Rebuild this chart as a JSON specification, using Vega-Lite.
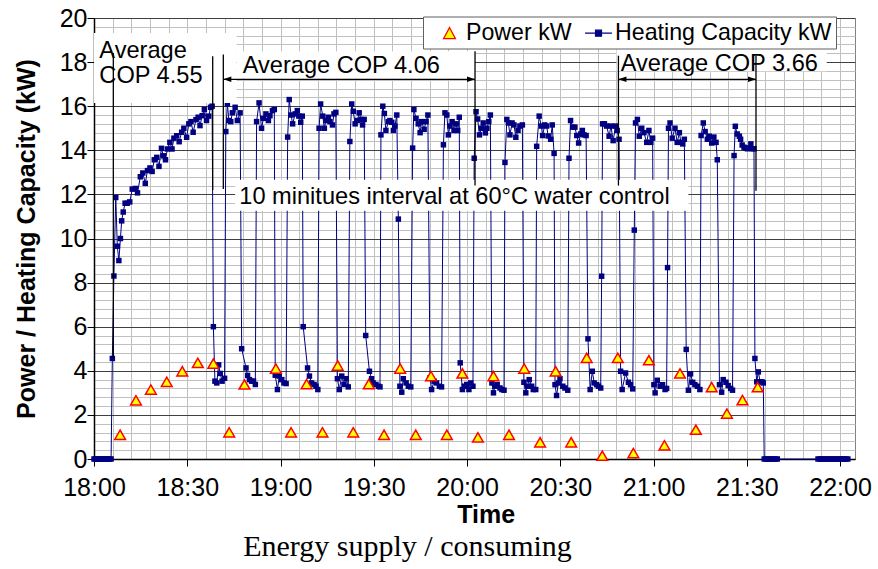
{
  "$schema": "https://vega.github.io/schema/vega-lite/v6.json",
  "width": 761,
  "height": 441,
  "autosize": {"type": "none"},
  "padding": {"left": 94, "top": 18, "right": 23, "bottom": 110},
  "background": "white",
  "config": {"view": {"stroke": "#808080", "strokeWidth": 1}, "font": "Liberation Sans"},
  "title": {"text": "Energy supply / consuming", "orient": "bottom", "anchor": "middle", "font": "Liberation Serif", "fontSize": 30, "fontWeight": "normal", "color": "black", "offset": 5, "dx": -67},
  "layer": [
    {
      "data": {"format": {"parse": {"time": "utc:'%H:%M:%S'"}}, "values": [
        {"time":"18:00:00","kW":0},{"time":"18:00:30","kW":0},{"time":"18:01:00","kW":0},{"time":"18:01:30","kW":0},{"time":"18:02:00","kW":0},{"time":"18:02:30","kW":0},{"time":"18:03:00","kW":0},{"time":"18:03:30","kW":0},{"time":"18:04:00","kW":0},{"time":"18:04:30","kW":0},{"time":"18:05:00","kW":0},{"time":"18:05:30","kW":0},
        {"time":"18:05:54","kW":4.56},{"time":"18:06:24","kW":8.3},{"time":"18:07:00","kW":11.86},{"time":"18:07:30","kW":9.65},{"time":"18:08:00","kW":9.0},{"time":"18:08:30","kW":10.0},{"time":"18:08:54","kW":10.8},{"time":"18:09:24","kW":11.2},{"time":"18:10:00","kW":11.6},{"time":"18:10:42","kW":11.6},{"time":"18:11:30","kW":11.66},{"time":"18:12:18","kW":12.24},{"time":"18:13:18","kW":12.27},{"time":"18:14:00","kW":12.07},{"time":"18:14:54","kW":12.8},{"time":"18:15:42","kW":12.97},{"time":"18:16:30","kW":12.5},{"time":"18:17:12","kW":13.08},{"time":"18:18:00","kW":13.2},{"time":"18:18:42","kW":13.04},{"time":"18:19:24","kW":13.57},{"time":"18:20:12","kW":13.68},{"time":"18:20:54","kW":13.27},{"time":"18:21:42","kW":14.09},{"time":"18:22:18","kW":13.75},{"time":"18:23:00","kW":13.57},{"time":"18:23:36","kW":14.06},{"time":"18:24:24","kW":14.36},{"time":"18:25:06","kW":14.06},{"time":"18:25:42","kW":14.55},{"time":"18:26:36","kW":14.66},{"time":"18:27:24","kW":14.39},{"time":"18:28:12","kW":14.82},{"time":"18:28:54","kW":15.0},{"time":"18:29:48","kW":14.59},{"time":"18:30:30","kW":15.2},{"time":"18:31:12","kW":15.3},{"time":"18:31:54","kW":14.82},{"time":"18:32:48","kW":15.39},{"time":"18:33:30","kW":15.5},{"time":"18:34:06","kW":15.12},{"time":"18:34:48","kW":15.57},{"time":"18:35:30","kW":15.85},{"time":"18:36:12","kW":15.35},{"time":"18:36:54","kW":15.55},{"time":"18:37:30","kW":15.95},{"time":"18:38:00","kW":16.0},
        {"time":"18:38:24","kW":6.0},{"time":"18:38:54","kW":3.53},{"time":"18:39:30","kW":3.45},{"time":"18:40:06","kW":4.27},{"time":"18:40:36","kW":3.88},{"time":"18:41:12","kW":3.53},{"time":"18:42:00","kW":3.66},
        {"time":"18:42:24","kW":14.85},{"time":"18:42:54","kW":16.1},{"time":"18:43:24","kW":15.35},{"time":"18:44:00","kW":15.3},{"time":"18:44:30","kW":15.7},{"time":"18:45:24","kW":15.95},{"time":"18:46:06","kW":15.35},{"time":"18:47:00","kW":15.7},
        {"time":"18:47:30","kW":5.0},{"time":"18:48:54","kW":4.13},{"time":"18:49:24","kW":3.79},{"time":"18:50:00","kW":3.6},{"time":"18:50:42","kW":3.53},{"time":"18:51:18","kW":3.53},{"time":"18:51:54","kW":3.38},
        {"time":"18:52:18","kW":15.3},{"time":"18:53:06","kW":16.15},{"time":"18:53:54","kW":15.0},{"time":"18:54:30","kW":15.45},{"time":"18:55:18","kW":15.65},{"time":"18:56:06","kW":15.35},{"time":"18:56:36","kW":15.57},{"time":"18:57:24","kW":15.8},{"time":"18:58:00","kW":15.85},
        {"time":"18:58:18","kW":3.8},{"time":"18:59:00","kW":3.15},{"time":"18:59:36","kW":3.76},{"time":"19:00:24","kW":3.6},{"time":"19:01:06","kW":3.45},{"time":"19:01:48","kW":3.42},
        {"time":"19:02:18","kW":14.6},{"time":"19:02:48","kW":16.3},{"time":"19:03:24","kW":15.6},{"time":"19:03:54","kW":15.2},{"time":"19:04:42","kW":15.65},{"time":"19:05:24","kW":15.8},{"time":"19:05:54","kW":15.55},{"time":"19:06:30","kW":15.27},{"time":"19:07:00","kW":15.55},
        {"time":"19:07:18","kW":6.0},{"time":"19:08:42","kW":4.13},{"time":"19:09:18","kW":3.76},{"time":"19:10:00","kW":3.45},{"time":"19:10:48","kW":3.38},{"time":"19:11:24","kW":3.3},{"time":"19:12:00","kW":3.15},
        {"time":"19:12:24","kW":15.0},{"time":"19:12:54","kW":16.1},{"time":"19:13:36","kW":15.55},{"time":"19:14:06","kW":15.0},{"time":"19:14:36","kW":15.35},{"time":"19:15:24","kW":15.5},{"time":"19:15:54","kW":15.3},{"time":"19:16:42","kW":15.15},{"time":"19:17:12","kW":15.65},{"time":"19:17:48","kW":15.72},
        {"time":"19:18:18","kW":3.64},{"time":"19:18:54","kW":3.15},{"time":"19:19:42","kW":3.76},{"time":"19:20:24","kW":3.38},{"time":"19:21:06","kW":3.64},{"time":"19:21:48","kW":3.27},
        {"time":"19:22:18","kW":14.4},{"time":"19:22:54","kW":16.1},{"time":"19:23:24","kW":15.77},{"time":"19:24:00","kW":15.2},{"time":"19:24:42","kW":15.35},{"time":"19:25:18","kW":15.7},{"time":"19:25:54","kW":15.4},{"time":"19:26:24","kW":15.15},{"time":"19:26:54","kW":15.4},
        {"time":"19:27:24","kW":5.6},{"time":"19:28:36","kW":3.98},{"time":"19:29:18","kW":3.64},{"time":"19:29:48","kW":3.45},{"time":"19:30:42","kW":3.38},{"time":"19:31:30","kW":3.3},{"time":"19:32:00","kW":3.27},
        {"time":"19:32:18","kW":14.7},{"time":"19:32:54","kW":16.0},{"time":"19:33:24","kW":15.67},{"time":"19:33:54","kW":14.9},{"time":"19:34:42","kW":15.3},{"time":"19:35:12","kW":15.35},{"time":"19:35:48","kW":15.27},{"time":"19:36:18","kW":14.9},{"time":"19:36:48","kW":15.1},{"time":"19:37:24","kW":15.6},
        {"time":"19:37:54","kW":10.88},{"time":"19:38:24","kW":3.3},{"time":"19:39:00","kW":3.03},{"time":"19:39:30","kW":3.64},{"time":"19:40:24","kW":3.45},{"time":"19:41:06","kW":3.3},{"time":"19:41:54","kW":3.27},
        {"time":"19:42:30","kW":14.1},{"time":"19:42:54","kW":15.85},{"time":"19:43:36","kW":15.45},{"time":"19:44:18","kW":15.2},{"time":"19:44:54","kW":14.8},{"time":"19:45:24","kW":15.3},{"time":"19:46:12","kW":14.95},{"time":"19:46:48","kW":15.3},{"time":"19:47:24","kW":15.6},
        {"time":"19:48:06","kW":3.68},{"time":"19:48:36","kW":3.15},{"time":"19:49:24","kW":3.53},{"time":"19:50:12","kW":3.45},{"time":"19:51:06","kW":3.3},{"time":"19:51:48","kW":3.27},
        {"time":"19:52:24","kW":14.25},{"time":"19:52:54","kW":15.7},{"time":"19:53:30","kW":15.6},{"time":"19:54:00","kW":14.7},{"time":"19:54:30","kW":15.1},{"time":"19:55:12","kW":15.3},{"time":"19:55:48","kW":14.9},{"time":"19:56:24","kW":15.2},{"time":"19:57:00","kW":14.9},{"time":"19:57:30","kW":15.5},
        {"time":"19:57:48","kW":4.36},{"time":"19:58:30","kW":3.15},{"time":"19:59:06","kW":3.3},{"time":"19:59:54","kW":3.38},{"time":"20:00:36","kW":3.15},{"time":"20:01:12","kW":3.45},{"time":"20:01:54","kW":3.3},
        {"time":"20:02:18","kW":13.64},{"time":"20:02:54","kW":15.75},{"time":"20:03:24","kW":15.42},{"time":"20:04:00","kW":14.7},{"time":"20:04:36","kW":15.0},{"time":"20:05:12","kW":15.24},{"time":"20:05:54","kW":14.79},{"time":"20:06:24","kW":15.0},{"time":"20:07:00","kW":15.3},{"time":"20:07:30","kW":15.6},
        {"time":"20:08:00","kW":3.45},{"time":"20:08:30","kW":3.0},{"time":"20:09:00","kW":3.3},{"time":"20:09:42","kW":3.37},{"time":"20:10:36","kW":3.22},{"time":"20:11:12","kW":3.15},{"time":"20:11:54","kW":3.12},
        {"time":"20:12:12","kW":13.45},{"time":"20:12:48","kW":15.4},{"time":"20:13:18","kW":15.24},{"time":"20:13:48","kW":14.7},{"time":"20:14:30","kW":15.24},{"time":"20:15:06","kW":15.15},{"time":"20:15:42","kW":14.59},{"time":"20:16:24","kW":14.9},{"time":"20:17:00","kW":15.1},{"time":"20:17:48","kW":15.15},
        {"time":"20:18:18","kW":3.48},{"time":"20:18:54","kW":3.0},{"time":"20:19:24","kW":3.3},{"time":"20:20:00","kW":3.6},{"time":"20:20:48","kW":3.3},{"time":"20:21:18","kW":3.15},{"time":"20:22:06","kW":3.15},
        {"time":"20:22:24","kW":14.18},{"time":"20:23:12","kW":15.55},{"time":"20:23:54","kW":15.1},{"time":"20:24:18","kW":14.67},{"time":"20:25:00","kW":15.15},{"time":"20:25:36","kW":15.1},{"time":"20:26:06","kW":14.65},{"time":"20:26:54","kW":14.5},{"time":"20:27:24","kW":15.15},{"time":"20:28:00","kW":13.86},
        {"time":"20:28:18","kW":3.37},{"time":"20:28:48","kW":2.88},{"time":"20:29:24","kW":3.45},{"time":"20:29:54","kW":3.64},{"time":"20:30:48","kW":3.3},{"time":"20:31:30","kW":3.22},{"time":"20:32:24","kW":3.12},
        {"time":"20:32:48","kW":13.64},{"time":"20:33:18","kW":15.35},{"time":"20:34:00","kW":15.05},{"time":"20:34:42","kW":15.05},{"time":"20:35:18","kW":14.67},{"time":"20:35:54","kW":14.33},{"time":"20:36:36","kW":14.74},{"time":"20:37:06","kW":14.9},{"time":"20:37:36","kW":14.7},{"time":"20:38:18","kW":14.67},
        {"time":"20:38:54","kW":5.45},{"time":"20:39:36","kW":3.15},{"time":"20:40:18","kW":3.98},{"time":"20:40:54","kW":3.45},{"time":"20:41:42","kW":3.37},{"time":"20:42:18","kW":3.3},{"time":"20:43:00","kW":3.22},{"time":"20:43:18","kW":8.29},
        {"time":"20:43:36","kW":15.2},{"time":"20:44:12","kW":15.2},{"time":"20:44:54","kW":15.1},{"time":"20:45:42","kW":14.64},{"time":"20:46:18","kW":15.1},{"time":"20:47:00","kW":14.44},{"time":"20:47:48","kW":15.1},{"time":"20:48:18","kW":14.9},{"time":"20:48:54","kW":14.5},
        {"time":"20:49:24","kW":3.98},{"time":"20:49:54","kW":3.15},{"time":"20:51:00","kW":3.9},{"time":"20:51:54","kW":3.48},{"time":"20:52:36","kW":3.37},{"time":"20:53:18","kW":3.18},{"time":"20:53:48","kW":10.38},
        {"time":"20:54:12","kW":15.24},{"time":"20:54:48","kW":15.4},{"time":"20:55:24","kW":14.64},{"time":"20:56:12","kW":15.0},{"time":"20:56:54","kW":14.8},{"time":"20:57:48","kW":14.36},{"time":"20:58:30","kW":14.9},{"time":"20:59:06","kW":14.36},{"time":"20:59:42","kW":14.55},
        {"time":"21:00:06","kW":3.37},{"time":"21:00:30","kW":3.0},{"time":"21:01:12","kW":3.57},{"time":"21:02:06","kW":3.3},{"time":"21:02:54","kW":3.37},{"time":"21:03:42","kW":3.15},{"time":"21:04:12","kW":3.2},{"time":"21:04:30","kW":8.68},
        {"time":"21:04:48","kW":15.0},{"time":"21:05:18","kW":15.24},{"time":"21:06:00","kW":14.55},{"time":"21:06:54","kW":15.0},{"time":"21:07:36","kW":14.36},{"time":"21:08:18","kW":14.8},{"time":"21:08:48","kW":14.36},{"time":"21:09:24","kW":14.29},{"time":"21:09:54","kW":14.5},
        {"time":"21:10:30","kW":4.97},{"time":"21:11:12","kW":3.12},{"time":"21:11:54","kW":3.86},{"time":"21:12:36","kW":3.48},{"time":"21:13:18","kW":3.37},{"time":"21:14:06","kW":3.3},{"time":"21:14:54","kW":3.15},
        {"time":"21:15:18","kW":14.67},{"time":"21:16:00","kW":15.24},{"time":"21:16:36","kW":14.85},{"time":"21:17:18","kW":14.5},{"time":"21:17:54","kW":14.64},{"time":"21:18:42","kW":14.33},{"time":"21:19:24","kW":14.6},{"time":"21:20:06","kW":14.36},{"time":"21:20:30","kW":13.57},
        {"time":"21:21:12","kW":3.37},{"time":"21:21:54","kW":3.03},{"time":"21:22:24","kW":3.6},{"time":"21:23:18","kW":3.48},{"time":"21:24:00","kW":3.33},{"time":"21:24:48","kW":3.2},{"time":"21:25:24","kW":3.12},
        {"time":"21:25:54","kW":13.76},{"time":"21:26:18","kW":15.09},{"time":"21:26:54","kW":14.74},{"time":"21:27:36","kW":14.64},{"time":"21:28:00","kW":14.5},{"time":"21:28:30","kW":14.24},{"time":"21:29:06","kW":14.14},{"time":"21:29:36","kW":14.1},{"time":"21:30:12","kW":14.07},{"time":"21:30:42","kW":14.1},{"time":"21:31:18","kW":14.29},{"time":"21:31:48","kW":14.07},{"time":"21:32:18","kW":14.07},
        {"time":"21:32:36","kW":4.56},{"time":"21:33:12","kW":3.5},{"time":"21:33:42","kW":3.95},{"time":"21:34:18","kW":3.5},{"time":"21:34:54","kW":3.5},{"time":"21:35:18","kW":3.45},
        {"time":"21:35:36","kW":0},{"time":"21:36:12","kW":0},{"time":"21:36:48","kW":0},{"time":"21:37:24","kW":0},{"time":"21:38:00","kW":0},{"time":"21:38:36","kW":0},{"time":"21:39:12","kW":0},{"time":"21:39:48","kW":0},
        {"time":"21:52:54","kW":0},{"time":"21:53:30","kW":0},{"time":"21:54:06","kW":0},{"time":"21:54:42","kW":0},{"time":"21:55:18","kW":0},{"time":"21:55:54","kW":0},{"time":"21:56:30","kW":0},{"time":"21:57:06","kW":0},{"time":"21:57:42","kW":0},{"time":"21:58:18","kW":0},{"time":"21:58:54","kW":0},{"time":"21:59:30","kW":0},{"time":"22:00:06","kW":0},{"time":"22:00:42","kW":0},{"time":"22:01:18","kW":0},{"time":"22:01:54","kW":0},{"time":"22:02:30","kW":0}
      ]},
      "layer": [
        {"mark": {"type": "line", "color": "#000080", "strokeWidth": 1}, "encoding": {}},
        {"mark": {"type": "point", "shape": "square", "filled": true, "size": 30, "color": "#000080", "opacity": 1}, "encoding": {}}
      ],
      "encoding": {
        "x": {"field": "time", "type": "temporal",
          "scale": {"type": "utc", "domain": [{"year": 1900, "month": 1, "date": 1, "hours": 18, "minutes": 0, "utc": true}, {"year": 1900, "month": 1, "date": 1, "hours": 22, "minutes": 4, "seconds": 48, "utc": true}]},
          "axis": {"title": "Time", "titleFont": "Liberation Sans", "titleFontSize": 25, "titleFontWeight": "bold", "titleColor": "black", "titlePadding": 2, "titleX": 391.6,
            "tickCount": 100,
            "values": [
              {"year":1900,"month":1,"date":1,"hours":18,"minutes":0,"utc":true},{"year":1900,"month":1,"date":1,"hours":18,"minutes":6,"utc":true},{"year":1900,"month":1,"date":1,"hours":18,"minutes":12,"utc":true},{"year":1900,"month":1,"date":1,"hours":18,"minutes":18,"utc":true},{"year":1900,"month":1,"date":1,"hours":18,"minutes":24,"utc":true},
              {"year":1900,"month":1,"date":1,"hours":18,"minutes":30,"utc":true},{"year":1900,"month":1,"date":1,"hours":18,"minutes":36,"utc":true},{"year":1900,"month":1,"date":1,"hours":18,"minutes":42,"utc":true},{"year":1900,"month":1,"date":1,"hours":18,"minutes":48,"utc":true},{"year":1900,"month":1,"date":1,"hours":18,"minutes":54,"utc":true},
              {"year":1900,"month":1,"date":1,"hours":19,"minutes":0,"utc":true},{"year":1900,"month":1,"date":1,"hours":19,"minutes":6,"utc":true},{"year":1900,"month":1,"date":1,"hours":19,"minutes":12,"utc":true},{"year":1900,"month":1,"date":1,"hours":19,"minutes":18,"utc":true},{"year":1900,"month":1,"date":1,"hours":19,"minutes":24,"utc":true},
              {"year":1900,"month":1,"date":1,"hours":19,"minutes":30,"utc":true},{"year":1900,"month":1,"date":1,"hours":19,"minutes":36,"utc":true},{"year":1900,"month":1,"date":1,"hours":19,"minutes":42,"utc":true},{"year":1900,"month":1,"date":1,"hours":19,"minutes":48,"utc":true},{"year":1900,"month":1,"date":1,"hours":19,"minutes":54,"utc":true},
              {"year":1900,"month":1,"date":1,"hours":20,"minutes":0,"utc":true},{"year":1900,"month":1,"date":1,"hours":20,"minutes":6,"utc":true},{"year":1900,"month":1,"date":1,"hours":20,"minutes":12,"utc":true},{"year":1900,"month":1,"date":1,"hours":20,"minutes":18,"utc":true},{"year":1900,"month":1,"date":1,"hours":20,"minutes":24,"utc":true},
              {"year":1900,"month":1,"date":1,"hours":20,"minutes":30,"utc":true},{"year":1900,"month":1,"date":1,"hours":20,"minutes":36,"utc":true},{"year":1900,"month":1,"date":1,"hours":20,"minutes":42,"utc":true},{"year":1900,"month":1,"date":1,"hours":20,"minutes":48,"utc":true},{"year":1900,"month":1,"date":1,"hours":20,"minutes":54,"utc":true},
              {"year":1900,"month":1,"date":1,"hours":21,"minutes":0,"utc":true},{"year":1900,"month":1,"date":1,"hours":21,"minutes":6,"utc":true},{"year":1900,"month":1,"date":1,"hours":21,"minutes":12,"utc":true},{"year":1900,"month":1,"date":1,"hours":21,"minutes":18,"utc":true},{"year":1900,"month":1,"date":1,"hours":21,"minutes":24,"utc":true},
              {"year":1900,"month":1,"date":1,"hours":21,"minutes":30,"utc":true},{"year":1900,"month":1,"date":1,"hours":21,"minutes":36,"utc":true},{"year":1900,"month":1,"date":1,"hours":21,"minutes":42,"utc":true},{"year":1900,"month":1,"date":1,"hours":21,"minutes":48,"utc":true},{"year":1900,"month":1,"date":1,"hours":21,"minutes":54,"utc":true},
              {"year":1900,"month":1,"date":1,"hours":22,"minutes":0,"utc":true}
            ],
            "labelExpr": "utcminutes(datum.value) % 30 === 0 ? utcFormat(datum.value, '%H:%M') : ''",
            "labelFont": "Liberation Sans", "labelFontSize": 25, "labelColor": "black", "labelPadding": 9, "labelFlush": false, "labelOverlap": false,
            "tickSize": 7, "tickWidth": 1, "tickColor": {"condition": {"test": "utcminutes(datum.value) % 30 === 0", "value": "black"}, "value": "transparent"},
            "grid": true, "gridColor": "#c0c0c0", "gridWidth": 1, "domainColor": "black", "domainWidth": 1.5}},
        "y": {"field": "kW", "type": "quantitative",
          "scale": {"domain": [0, 20], "nice": false},
          "axis": {"title": "Power / Heating Capacity (kW)", "titleFont": "Liberation Sans", "titleFontSize": 25, "titleFontWeight": "bold", "titleColor": "black", "titlePadding": 20,
            "tickCount": 100,
            "values": [0,0.4,0.8,1.2,1.6,2,2.4,2.8,3.2,3.6,4,4.4,4.8,5.2,5.6,6,6.4,6.8,7.2,7.6,8,8.4,8.8,9.2,9.6,10,10.4,10.8,11.2,11.6,12,12.4,12.8,13.2,13.6,14,14.4,14.8,15.2,15.6,16,16.4,16.8,17.2,17.6,18,18.4,18.8,19.2,19.6,20],
            "labelExpr": "datum.value % 2 === 0 ? format(datum.value, 'd') : ''",
            "labelFont": "Liberation Sans", "labelFontSize": 25, "labelColor": "black", "labelPadding": 0, "labelOverlap": false,
            "tickSize": 7, "tickWidth": 1, "tickColor": {"condition": {"test": "datum.value % 2 === 0", "value": "black"}, "value": "transparent"},
            "grid": true, "gridWidth": 1, "gridColor": {"condition": {"test": "datum.value % 2 === 0", "value": "#404040"}, "value": "#c0c0c0"},
            "domainColor": "black", "domainWidth": 1.5}}
      }
    },
    {
      "data": {"format": {"parse": {"time": "utc:'%H:%M:%S'"}}, "values": [
        {"time":"18:08:24","kW":1.1},{"time":"18:13:30","kW":2.66},{"time":"18:18:18","kW":3.15},{"time":"18:23:24","kW":3.5},{"time":"18:28:24","kW":3.98},{"time":"18:33:24","kW":4.36},{"time":"18:38:24","kW":4.33},{"time":"18:43:30","kW":1.21},{"time":"18:48:24","kW":3.38},{"time":"18:58:30","kW":4.1},{"time":"19:03:24","kW":1.21},{"time":"19:08:24","kW":3.4},{"time":"19:13:30","kW":1.21},{"time":"19:18:24","kW":4.24},{"time":"19:23:24","kW":1.21},{"time":"19:28:24","kW":3.4},{"time":"19:33:18","kW":1.1},{"time":"19:38:30","kW":4.1},{"time":"19:43:30","kW":1.1},{"time":"19:48:24","kW":3.76},{"time":"19:53:30","kW":1.1},{"time":"19:58:30","kW":3.88},{"time":"20:03:30","kW":0.98},{"time":"20:08:30","kW":3.76},{"time":"20:13:30","kW":1.1},{"time":"20:18:24","kW":4.1},{"time":"20:23:30","kW":0.76},{"time":"20:28:30","kW":3.98},{"time":"20:33:30","kW":0.76},{"time":"20:38:30","kW":4.59},{"time":"20:43:30","kW":0.15},{"time":"20:48:30","kW":4.59},{"time":"20:53:30","kW":0.27},{"time":"20:58:30","kW":4.48},{"time":"21:03:30","kW":0.62},{"time":"21:08:30","kW":3.88},{"time":"21:13:36","kW":1.33},{"time":"21:18:42","kW":3.26},{"time":"21:23:36","kW":2.06},{"time":"21:28:36","kW":2.67},{"time":"21:33:30","kW":3.26}
      ]},
      "mark": {"type": "point", "shape": "triangle-up", "filled": true, "size": 115, "fill": "#ffff00", "stroke": "#ff0000", "strokeWidth": 1.5, "opacity": 1},
      "encoding": {"x": {"field": "time", "type": "temporal"}, "y": {"field": "kW", "type": "quantitative"}}
    },
    {
      "data": {"format": {"parse": {"time": "utc:'%H:%M:%S'", "time2": "utc:'%H:%M:%S'"}}, "values": [
        {"time":"18:00:00","time2":"18:45:54","kW":16.15,"kW2":19.32},
        {"time":"18:45:54","time2":"20:02:34","kW":17.25,"kW2":18.49},
        {"time":"20:48:06","time2":"21:55:42","kW":17.58,"kW2":18.71},
        {"time":"18:45:24","time2":"21:11:12","kW":11.26,"kW2":12.67}
      ]},
      "mark": {"type": "rect", "fill": "white"},
      "encoding": {"x": {"field": "time", "type": "temporal"}, "x2": {"field": "time2"}, "y": {"field": "kW", "type": "quantitative"}, "y2": {"field": "kW2"}}
    },
    {
      "data": {"format": {"parse": {"time": "utc:'%H:%M:%S'"}}, "values": [
        {"time":"18:01:43","kW":18.19,"label":"Average"},
        {"time":"18:01:43","kW":17.05,"label":"COP 4.55"},
        {"time":"18:47:50","kW":17.5,"label":"Average COP 4.06"},
        {"time":"20:49:26","kW":17.61,"label":"Average COP 3.66"},
        {"time":"18:46:44","kW":11.58,"label":"10 minitues interval at 60°C water control"}
      ]},
      "mark": {"type": "text", "align": "left", "baseline": "alphabetic", "font": "Liberation Sans", "fontSize": 23.6, "color": "black"},
      "encoding": {"x": {"field": "time", "type": "temporal"}, "y": {"field": "kW", "type": "quantitative"}, "text": {"field": "label"}}
    },
    {
      "data": {"format": {"parse": {"time": "utc:'%H:%M:%S'"}}, "values": [
        {"time":"18:06:13","kW":18.41,"kW2":4.6},
        {"time":"18:38:11","kW":18.26,"kW2":12.2},
        {"time":"18:41:36","kW":18.34,"kW2":12.24},
        {"time":"20:02:34","kW":18.49,"kW2":12.4},
        {"time":"20:48:42","kW":18.29,"kW2":12.4},
        {"time":"21:32:57","kW":18.29,"kW2":12.16}
      ]},
      "mark": {"type": "rule", "color": "black", "strokeWidth": 1.3},
      "encoding": {"x": {"field": "time", "type": "temporal"}, "y": {"field": "kW", "type": "quantitative"}, "y2": {"field": "kW2"}}
    },
    {
      "data": {"format": {"parse": {"time": "utc:'%H:%M:%S'", "time2": "utc:'%H:%M:%S'"}}, "values": [
        {"time":"18:41:36","time2":"20:02:34","kW":17.22},
        {"time":"20:48:42","time2":"21:32:57","kW":17.22}
      ]},
      "mark": {"type": "rule", "color": "black", "strokeWidth": 1.3},
      "encoding": {"x": {"field": "time", "type": "temporal"}, "x2": {"field": "time2"}, "y": {"field": "kW", "type": "quantitative"}}
    },
    {
      "data": {"format": {"parse": {"time": "utc:'%H:%M:%S'"}}, "values": [
        {"time":"18:41:36","kW":17.22},{"time":"20:48:42","kW":17.22}
      ]},
      "mark": {"type": "point", "shape": "M0,0L2,-0.7L2,0.7Z", "filled": true, "color": "black", "size": 64, "opacity": 1},
      "encoding": {"x": {"field": "time", "type": "temporal"}, "y": {"field": "kW", "type": "quantitative"}}
    },
    {
      "data": {"format": {"parse": {"time": "utc:'%H:%M:%S'"}}, "values": [
        {"time":"20:02:34","kW":17.22},{"time":"21:32:57","kW":17.22}
      ]},
      "mark": {"type": "point", "shape": "M0,0L-2,-0.7L-2,0.7Z", "filled": true, "color": "black", "size": 64, "opacity": 1},
      "encoding": {"x": {"field": "time", "type": "temporal"}, "y": {"field": "kW", "type": "quantitative"}}
    },
    {
      "data": {"values": [{"series": "Power kW"}, {"series": "Heating Capacity kW"}]},
      "mark": {"type": "point", "filled": true, "opacity": 0},
      "encoding": {
        "shape": {"field": "series", "type": "nominal",
          "scale": {"domain": ["Power kW", "Heating Capacity kW"], "range": ["M0.87,-0.48L1.39,0.48L0.35,0.48Z", "M-0.3,0L2.04,0M0.61,-0.26L1.13,-0.26L1.13,0.26L0.61,0.26Z"]},
          "legend": {"orient": "none", "legendX": 329, "legendY": -1.5, "direction": "horizontal", "title": null, "fillColor": "white", "strokeColor": "#606060", "padding": 4, "symbolSize": 529, "symbolStrokeWidth": 1.2, "symbolOpacity": 1, "labelFont": "Liberation Sans", "labelFontSize": 23.2, "labelLimit": 500, "labelColor": "black", "labelOffset": 14, "columnPadding": 4}},
        "fill": {"field": "series", "type": "nominal", "scale": {"domain": ["Power kW", "Heating Capacity kW"], "range": ["#ffff00", "#000080"]}},
        "stroke": {"field": "series", "type": "nominal", "scale": {"domain": ["Power kW", "Heating Capacity kW"], "range": ["#ff0000", "#000080"]}}
      }
    }
  ]
}
